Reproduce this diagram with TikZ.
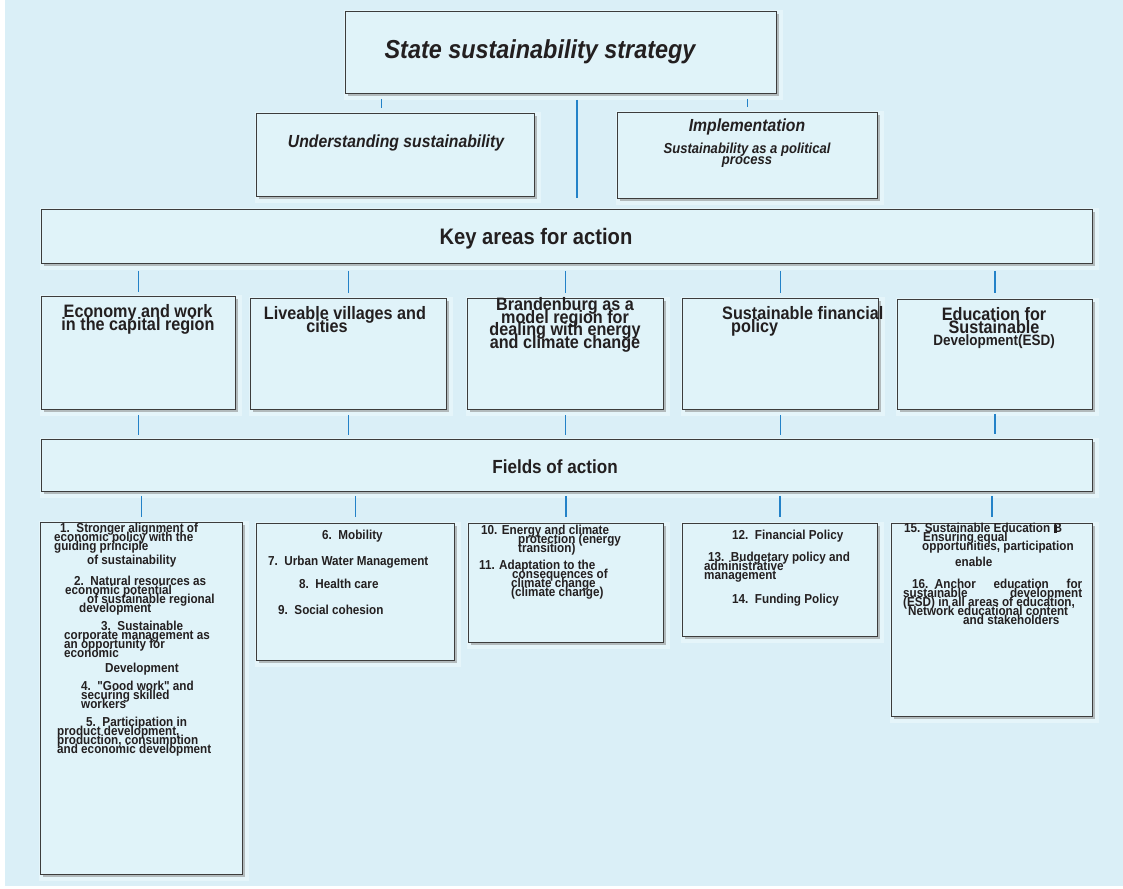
\documentclass[tikz,border=0pt]{standalone}
\usepackage{fontspec}
\usepackage{tikz}
\usetikzlibrary{shadows}
\newfontfamily\cond[FakeStretch=0.9]{Liberation Sans}
\definecolor{bgblue}{RGB}{218,239,247}
\definecolor{boxfill}{RGB}{224,243,249}
\definecolor{halo}{RGB}{229,245,250}
\definecolor{boxline}{RGB}{60,60,60}
\definecolor{lblue}{RGB}{35,130,200}
\definecolor{ink}{RGB}{35,31,32}
\newcommand{\tightlines}{\lineskiplimit=-20pt\lineskip=0pt}
\tikzset{box/.style = {draw=boxline, fill=boxfill, line width=0.9pt, inner sep=0,
                       anchor=north west,
                       general shadow={shadow xshift=3pt, shadow yshift=-3pt,
                                       fill=halo, draw=halo, line width=8pt},
                       drop shadow={shadow xshift=2.5pt, shadow yshift=-2.5pt, fill=black!50}}}
\tikzset{link/.style = {draw=lblue, line width=1.2pt}}
\tikzset{head/.style = {text=ink, inner sep=0, align=center,
                        font=\cond\bfseries\fontsize{18}{12.8}\selectfont\tightlines}}
\tikzset{item/.style = {text=ink, inner sep=0, align=left, anchor=north west,
                        font=\cond\bfseries\fontsize{13}{8.9}\selectfont\tightlines}}

\begin{document}
\begin{tikzpicture}[x=1pt, y=-1pt]
      \useasboundingbox (0,0) rectangle (1123,888);
      \fill [bgblue] (5,0) rectangle (1123,886);

      % strategy and its two parts
      \node [box, minimum width=431pt, minimum height=82pt] (strategy) at (345,11) {};
      \node [box, minimum width=278pt, minimum height=83pt] (under) at (256,113) {};
      \node [box, minimum width=260pt, minimum height=86pt] (impl) at (617,112) {};

      \node [text=ink, inner sep=0, font=\cond\bfseries\itshape\fontsize{26}{28}\selectfont]
            (title) at (540,52) {State sustainability strategy};
      \node [text=ink, inner sep=0, font=\cond\bfseries\itshape\fontsize{17.5}{20}\selectfont]
            (undertext) at (396,143) {Understanding sustainability};
      \node [text=ink, inner sep=0, font=\cond\bfseries\itshape\fontsize{17.5}{20}\selectfont]
            (impltext) at (747,127) {Implementation};
      \node [text=ink, inner sep=0, align=center,
             font=\cond\bfseries\itshape\fontsize{14.5}{11}\selectfont\tightlines]
            (impldesc) at (747,155) {Sustainability as a political\\process};

      % key areas
      \node [box, minimum width=1051pt, minimum height=54pt] (keys) at (41,209) {};
      \node [text=ink, inner sep=0, font=\cond\bfseries\fontsize{22.4}{24}\selectfont]
            (keystext) at (536,239) {Key areas for action};

      \node [box, minimum width=194pt, minimum height=113pt] (econ) at (41,296) {};
      \node [box, minimum width=196pt, minimum height=111pt] (live) at (250,298) {};
      \node [box, minimum width=196pt, minimum height=111pt] (brand) at (467,298) {};
      \node [box, minimum width=196pt, minimum height=111pt] (fin) at (682,298) {};
      \node [box, minimum width=195pt, minimum height=110pt] (esd) at (897,299) {};

      \node [head, anchor=north] (econtext) at (138,304) {Economy and work\\in the capital region};
      \node [head, anchor=north] (livetext) at (345,306) {Liveable villages and\\cities\hspace*{36pt}};
      \node [head, anchor=north] (brandtext) at (565,297)
            {Brandenburg as a\\model region for\\dealing with energy\\and climate change};
      \node [head, anchor=north west, align=left] (fintext) at (722,306)
            {Sustainable financial\\\hspace*{9pt}policy};
      \node [head, anchor=north] (esdtext) at (994,307)
            {Education for\\Sustainable\\{\fontsize{15}{12.8}\selectfont Development(ESD)}};

      % fields of action
      \node [box, minimum width=1051pt, minimum height=52pt] (fields) at (41,439) {};
      \node [text=ink, inner sep=0, font=\cond\bfseries\fontsize{19}{21}\selectfont]
            (fieldstext) at (555,467) {Fields of action};

      \node [box, minimum width=202pt, minimum height=352pt] (econF) at (40,522) {};
      \node [box, minimum width=198pt, minimum height=137pt] (liveF) at (256,523) {};
      \node [box, minimum width=195pt, minimum height=119pt] (brandF) at (468,523) {};
      \node [box, minimum width=195pt, minimum height=113pt] (finF) at (682,523) {};
      \node [box, minimum width=201pt, minimum height=193pt] (esdF) at (891,523) {};

      \node [item] (f1) at (54,523) {\hspace*{6pt}1.\ \ Stronger alignment of\\economic policy with the\\
            guiding principle\\[5pt]\hspace*{33pt}of sustainability};
      \node [item] (f2) at (65,576) {\hspace*{9pt}2.\ \ Natural resources as\\economic potential\\
            \hspace*{22pt}of sustainable regional\\\hspace*{14pt}development};
      \node [item] (f3) at (64,621) {\hspace*{37pt}3.\ \ Sustainable\\corporate management as\\
            an opportunity for\\economic\\[6pt]\hspace*{41pt}Development};
      \node [item] (f4) at (81,681) {4.\ \ "Good work" and\\securing skilled\\workers};
      \node [item] (f5) at (57,717) {\hspace*{29pt}5.\ \ Participation in\\product development,\\
            production, consumption\\and economic development};

      \node [item] (f6) at (322,530) {6.\ \ Mobility};
      \node [item] (f7) at (268,556) {7.\ \ Urban Water Management};
      \node [item] (f8) at (299,579) {8.\ \ Health care};
      \node [item] (f9) at (278,605) {9.\ \ Social cohesion};

      \node [item] (f10) at (481,525) {10. Energy and climate\\\hspace*{37pt}protection (energy\\
            \hspace*{37pt}transition)};
      \node [item] (f11) at (479,560) {11. Adaptation to the\\\hspace*{33pt}consequences of\\
            \hspace*{32pt}climate change\\\hspace*{32pt}(climate change)};

      \node [item] (f12) at (732,530) {12.\ \ Financial Policy};
      \node [item] (f13) at (704,552) {\hspace*{4pt}13.\ \ Budgetary policy and\\administrative\\management};
      \node [item] (f14) at (732,594) {14.\ \ Funding Policy};

      \node [item] (f15) at (904,523) {15. Sustainable Education \rlap{\rule[-0.5pt]{3pt}{8.5pt}}B\\
            \hspace*{19pt}Ensuring equal\\\hspace*{18pt}opportunities, participation\\[7pt]
            \hspace*{51pt}enable};
      \node [item] (f16) at (903,579) {\hbox to 179pt{\hspace*{9pt}16.\ \ Anchor\hfill education\hfill for}\\
            \hbox to 179pt{sustainable\hfill development}\\(ESD) in all areas of education,\\
            \hspace*{5pt}Network educational content\\\hspace*{60pt}and stakeholders};

      % connectors
      \draw [link, line width=0.8pt, shorten <=5pt, shorten >=5pt]
            ([xshift=-14pt]under.north |- strategy.south) -- ([xshift=-14pt]under.north);
      \draw [link, line width=0.8pt, shorten <=5pt, shorten >=5pt]
            (impl.north |- strategy.south) -- (impl.north);
      \draw [link, line width=1.6pt, shorten <=6pt, shorten >=11pt]
            ([xshift=16pt]strategy.south) -- ([xshift=16pt]strategy.south |- keys.north);

      \draw [link, line width=1.6pt, shorten <=7pt, shorten >=4pt] (keys.south -| econ.north) -- (econ.north);
      \draw [link, shorten <=7pt, shorten >=5pt] (keys.south -| live.north) -- (live.north);
      \draw [link, shorten <=7pt, shorten >=5pt] (keys.south -| brand.north) -- (brand.north);
      \draw [link, shorten <=7pt, shorten >=5pt] (keys.south -| fin.north) -- (fin.north);
      \draw [link, shorten <=7pt, shorten >=6pt] (keys.south -| esd.north) -- (esd.north);

      \draw [link, shorten <=5pt, shorten >=4pt] (econ.south) -- (econ.south |- fields.north);
      \draw [link, shorten <=5pt, shorten >=4pt] (live.south) -- (live.south |- fields.north);
      \draw [link, shorten <=5pt, shorten >=4pt] (brand.south) -- (brand.south |- fields.north);
      \draw [link, shorten <=5pt, shorten >=4pt] (fin.south) -- (fin.south |- fields.north);
      \draw [link, shorten <=4pt, shorten >=5pt] (esd.south) -- (esd.south |- fields.north);

      \draw [link, shorten <=4pt, shorten >=5pt] (fields.south -| econF.north) -- (econF.north);
      \draw [link, shorten <=4pt, shorten >=6pt] (fields.south -| liveF.north) -- (liveF.north);
      \draw [link, shorten <=4pt, shorten >=6pt] (fields.south -| brandF.north) -- (brandF.north);
      \draw [link, shorten <=4pt, shorten >=6pt] (fields.south -| finF.north) -- (finF.north);
      \draw [link, shorten <=4pt, shorten >=6pt] (fields.south -| esdF.north) -- (esdF.north);
\end{tikzpicture}
\end{document}
